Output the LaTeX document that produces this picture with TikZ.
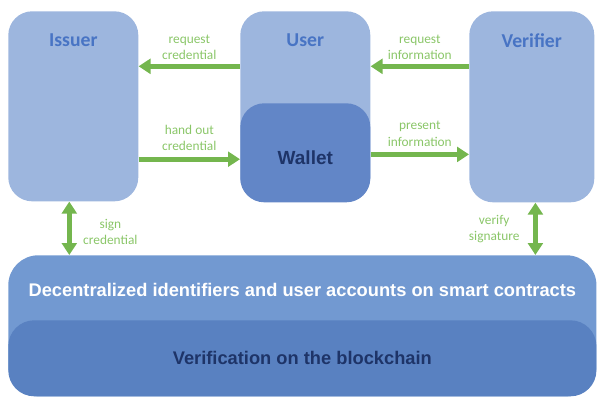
\documentclass[tikz,border=0pt]{standalone}
\usepackage{fontspec}
\usepackage{tikz}
\usetikzlibrary{arrows.meta,positioning}
\newfontfamily\calibri{Carlito}
\newfontfamily\arialf{Liberation Sans}
\definecolor{boxlight}{RGB}{157,182,222}
\definecolor{titleblue}{RGB}{72,116,196}
\definecolor{walletfill}{RGB}{98,134,199}
\definecolor{navy}{RGB}{30,52,104}
\definecolor{didfill}{RGB}{114,153,209}
\definecolor{chainfill}{RGB}{89,129,193}
\definecolor{arrgreen}{RGB}{116,182,78}
\definecolor{lblgreen}{RGB}{138,198,104}

\begin{document}
\begin{tikzpicture}[
  x=0.025cm, y=-0.025cm,
  party/.style={fill=boxlight, rounded corners=0.6cm, anchor=north west,
                minimum width=3.25cm, minimum height=4.75cm, inner sep=0pt},
  title/.style={text=titleblue, font=\calibri\bfseries\fontsize{14}{16}\selectfont},
  band/.style={rounded corners=0.75cm, anchor=north west, minimum width=14.7cm,
               inner sep=0pt},
  lbl/.style={text=lblgreen, align=center, inner sep=1pt,
              font=\calibri\fontsize{9.5}{11.5}\selectfont},
  arr/.style={-{Triangle[width=10.5pt,length=8.5pt]}, line width=3.6pt, arrgreen},
  dbl/.style={{Triangle[width=10.5pt,length=8.5pt]}-{Triangle[width=10.5pt,length=8.5pt]},
              line width=3.6pt, arrgreen}
]
\useasboundingbox (0,0) rectangle (597,397);

% the three parties
\node[party] (issuer) at (8,11) {};
\node[party] (user) at (240,11) {};
\node[party, minimum width=3.125cm, minimum height=4.775cm] (verifier) at (469,11) {};
\node[fill=walletfill, rounded corners=0.6cm, anchor=north west, minimum width=3.25cm,
      minimum height=2.475cm, inner sep=0pt] (wallet) at (240,103) {};
\node[text=navy, font=\arialf\bfseries\fontsize{13.5}{15}\selectfont] (walletT)
      at ([yshift=-0.13cm]wallet.center) {Wallet};
\node[title] (issuerT) at ([yshift=-0.73cm]issuer.north) {Issuer};
\node[title] (userT) at ([yshift=-0.73cm]user.north) {User};
\node[title] (verifierT) at ([yshift=-0.73cm]verifier.north) {Verifier};

% blockchain layers
\node[band, fill=didfill, minimum height=3.525cm] (did) at (8,255) {};
\node[text=white, font=\arialf\bfseries\fontsize{13}{15}\selectfont] (didT)
      at ([yshift=-0.875cm]did.north) {Decentralized identifiers and user accounts on smart contracts};
\node[band, fill=chainfill, rounded corners=0.65cm, minimum height=1.9cm, text=navy,
      font=\arialf\bfseries\fontsize{13}{15}\selectfont] (chain) at (8,320)
      {Verification on the blockchain};

% flows
\draw[arr] ([yshift=1cm]user.west) -- ([yshift=1cm]user.west -| issuer.east)
      node[lbl, midway, above=2pt] {request\\credential};
\draw[arr] ([yshift=-0.16cm]wallet.west -| issuer.east) -- ([yshift=-0.16cm]wallet.west)
      node[lbl, midway, above=3pt] {hand out\\credential};
\draw[arr] ([yshift=1cm]user.east -| verifier.west) -- ([yshift=1cm]user.east)
      node[lbl, midway, above=2pt] {request\\information};
\draw[arr] ([yshift=-0.04cm]wallet.east) -- ([yshift=-0.04cm]wallet.east -| verifier.west)
      node[lbl, midway, above=3pt] {present\\information};
\draw[dbl] ([xshift=-0.1cm]issuer.south) -- ([xshift=-0.1cm]issuer.south |- did.north)
      node[lbl, midway, right=0.25cm, yshift=-0.1cm] {sign\\credential};
\draw[dbl] ([xshift=0.09cm]verifier.south) -- ([xshift=0.09cm]verifier.south |- did.north)
      node[lbl, midway, left=0.3cm] {verify\\signature};
\end{tikzpicture}
\end{document}
